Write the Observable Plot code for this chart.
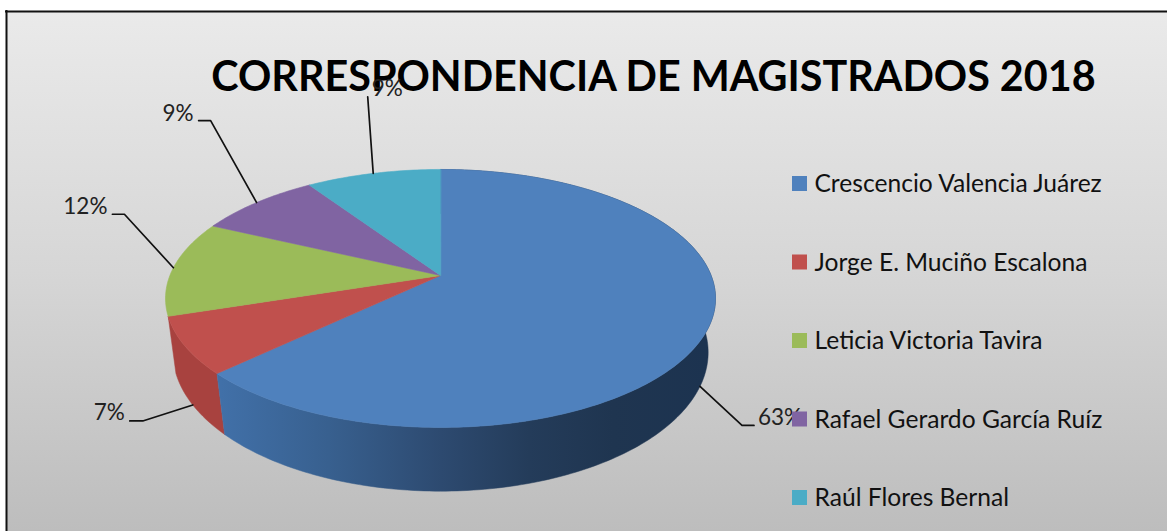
<!DOCTYPE html>
<html>
<head>
<meta charset="utf-8">
<script src="https://cdn.jsdelivr.net/npm/d3@7"></script>
<script src="https://cdn.jsdelivr.net/npm/@observablehq/plot@0.6"></script>
<style>
html,body{margin:0;padding:0;background:#fff}
svg{display:block}
</style>
</head>
<body>
<div id="chart"></div>
<script>
// ---- data
const names = ["Crescencio Valencia Juárez","Jorge E. Muciño Escalona","Leticia Victoria Tavira","Rafael Gerardo García Ruíz","Raúl Flores Bernal"];
const shares = [62.9, 7.1, 12.0, 8.6, 9.4];
const title = "CORRESPONDENCIA DE MAGISTRADOS 2018";
// ---- styling
const topColors = ["#4f81bd","#c0504d","#9bbb59","#8064a2","#4bacc6"];
const redSide = "#a8423f";
const blueStops = [[0,"#4170a8"],[0.22,"#38608f"],[0.45,"#2d4a70"],[0.63,"#243c5a"],[0.8,"#1f3550"],[1,"#1c3350"]];
const blueSpan = [220, 710];
// ---- projection of the tilted disc
const topDisc = {cx:440, cy:275, a:270.6, b:124.9, k:0.178};
const botDisc = {cx:440, cy:329, a:264, b:135, k:0.165};
const project = (d, deg) => {
  const t = deg*Math.PI/180, u = Math.sin(t), v = Math.cos(t), w = 1 + d.k*v;
  return [d.cx + d.a*u/w, d.cy - d.b*v/w];
};
// ---- slice angles from the values
const total = d3.sum(shares);
let acc = 0;
const slices = shares.map((s,i) => {
  const start = acc/total*360; acc += s;
  return {i, name:names[i], share:s, start, end:acc/total*360, mid:(start+acc/total*360)/2};
});
const range = (a,b,step=1) => {
  const out = []; for (let t=a; t<b; t+=step) out.push(t); out.push(b); return out;
};
// top faces
const faceRows = slices.flatMap(s => [
  {id:s.i, x:topDisc.cx, y:topDisc.cy, c:topColors[s.i]},
  ...range(s.start,s.end).map(t => { const [x,y]=project(topDisc,t); return {id:s.i,x,y,c:topColors[s.i]}; })
]);
// side walls of the two front slices: top rim forward, bottom rim back
const sideOf = s => {
  const ts = range(s.start,s.end);
  return [...ts.map(t=>project(topDisc,t)), ...ts.slice().reverse().map(t=>project(botDisc,t))].map(([x,y])=>({x,y}));
};
const blueSide = sideOf(slices[0]);
const redSideRows = sideOf(slices[1]);
// data labels & leaders: offsets from the rim anchor to the elbow, elbow to end, end to text
const labelLayout = [
  {disc:botDisc, dx:42,  dy:39,  lx:12,  tx:4,  ty:-8,   anchor:"start"},
  {disc:botDisc, dx:-50, dy:16,  lx:-13, tx:-5, ty:-8.5, anchor:"end"},
  {disc:topDisc, dx:-49, dy:-53.5, lx:-12, tx:-5, ty:-7.5, anchor:"end"},
  {disc:topDisc, dx:-46, dy:-82, lx:-12, tx:-5, ty:-7, anchor:"end"},
  {disc:topDisc, dx:-5.5,dy:-76.6, lx:0,  tx:19.5, ty:-7.5, anchor:"middle"}
];
const leaderRows = [], labelRows = [];
slices.forEach((s,i) => {
  const L = labelLayout[i], [ax,ay] = project(L.disc,s.mid);
  const ex = ax+L.dx, ey = ay+L.dy;
  [[ax,ay],[ex,ey],[ex+L.lx,ey]].forEach(([x,y]) => leaderRows.push({id:i,x,y}));
  labelRows.push({x:ex+L.lx+L.tx,y:ey+L.ty,text:Math.round(s.share)+"%",anchor:L.anchor});
});
const labelMark = anchor => Plot.text(labelRows.filter(d=>d.anchor===anchor),
  {x:"x",y:"y",text:"text",textAnchor:anchor,fontSize:22.5,fill:"#222"});
// legend
const legend = {x:792, size:15, top:176, step:78.5, textX:814};
const legendRows = names.map((n,i)=>({n,i,c:topColors[i],y:legend.top+i*legend.step}));

const frame = {x:6, y:11, w:1161, h:520};
const defs = () => {
  const s = d3.create("svg:defs");
  const g = s.append("linearGradient").attr("id","bg").attr("x1",0).attr("y1",0).attr("x2",0).attr("y2",1);
  [[0,"#eaeaea"],[0.5,"#d6d6d6"],[1,"#bdbdbd"]].forEach(([o,c]) => g.append("stop").attr("offset",o).attr("stop-color",c));
  const b = s.append("linearGradient").attr("id","blueSide").attr("gradientUnits","userSpaceOnUse")
    .attr("x1",blueSpan[0]).attr("y1",0).attr("x2",blueSpan[1]).attr("y2",0);
  blueStops.forEach(([o,c]) => b.append("stop").attr("offset",o).attr("stop-color",c));
  return s.node();
};

const font = "Lato, 'Open Sans', sans-serif";
const chart = Plot.plot({
  width:1167, height:531, margin:0,
  style:{background:"#fff", fontFamily:font},
  x:{domain:[0,1167], range:[0,1167], axis:null},
  y:{domain:[0,531], range:[0,531], axis:null},
  color:{type:"identity"},
  marks:[
    defs,
    Plot.rect([frame],{x1:d=>d.x,x2:d=>d.x+d.w,y1:d=>d.y,y2:d=>d.y+d.h,fill:"url(#bg)"}),
    Plot.ruleY([frame.y],{x1:frame.x-1,x2:1167,stroke:"#111",strokeWidth:2}),
    Plot.ruleX([frame.x],{y1:frame.y-1,y2:531,stroke:"#111",strokeWidth:2}),
    Plot.line(redSideRows,{x:"x",y:"y",fill:redSide,stroke:redSide,strokeWidth:0.5,curve:"linear-closed"}),
    Plot.line(blueSide,{x:"x",y:"y",fill:"url(#blueSide)",stroke:"url(#blueSide)",strokeWidth:0.5,curve:"linear-closed"}),
    Plot.line(faceRows,{x:"x",y:"y",z:"id",fill:"c",stroke:"c",strokeWidth:0.6,curve:"linear-closed"}),
    Plot.text([title],{x:()=>653,y:()=>77.5,text:d=>d,fontSize:41.3,fontWeight:700,fill:"#000"}),
    Plot.line(leaderRows,{x:"x",y:"y",z:"id",stroke:"#111",strokeWidth:1.7}),
    labelMark("start"), labelMark("end"), labelMark("middle"),
    Plot.rect(legendRows,{x1:()=>legend.x,x2:()=>legend.x+legend.size,y1:"y",y2:d=>d.y+legend.size,fill:"c"}),
    Plot.text(legendRows,{x:()=>legend.textX,y:d=>d.y+8,text:"n",textAnchor:"start",fontSize:24.6,fill:"#111"})
  ]
});
document.getElementById("chart").append(chart);
</script>
</body>
</html>
